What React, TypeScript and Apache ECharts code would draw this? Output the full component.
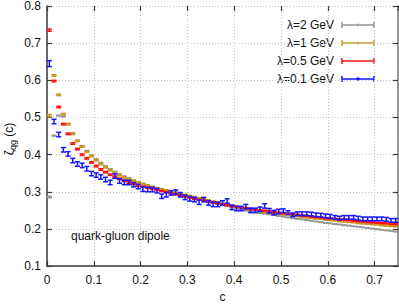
import React, { useEffect, useRef } from 'react';
import * as echarts from 'echarts';

const cValues = [
  0.005, 0.015, 0.025, 0.035, 0.045, 0.055, 0.065, 0.075, 0.085, 0.095,
  0.105, 0.115, 0.125, 0.135, 0.145, 0.155, 0.165, 0.175, 0.185, 0.195,
  0.205, 0.215, 0.225, 0.235, 0.245, 0.255, 0.265, 0.275, 0.285, 0.295,
  0.305, 0.315, 0.325, 0.335, 0.345, 0.355, 0.365, 0.375, 0.385, 0.395,
  0.405, 0.415, 0.425, 0.435, 0.445, 0.455, 0.465, 0.475, 0.485, 0.495,
  0.505, 0.515, 0.525, 0.535, 0.545, 0.555, 0.565, 0.575, 0.585, 0.595,
  0.605, 0.615, 0.625, 0.635, 0.645, 0.655, 0.665, 0.675, 0.685, 0.695,
  0.705, 0.715, 0.725, 0.735, 0.745,
];

const seriesNames = ['λ=2 GeV', 'λ=1 GeV', 'λ=0.5 GeV', 'λ=0.1 GeV'];

const zeta2GeV = [
  0.286, 0.451, 0.505, 0.503, 0.482, 0.455, 0.437, 0.423, 0.410, 0.398,
  0.388, 0.378, 0.369, 0.361, 0.354, 0.347, 0.341, 0.336, 0.331, 0.326,
  0.322, 0.318, 0.314, 0.310, 0.306, 0.302, 0.298, 0.295, 0.292, 0.289,
  0.286, 0.283, 0.279, 0.276, 0.273, 0.270, 0.267, 0.264, 0.261, 0.258,
  0.255, 0.252, 0.249, 0.247, 0.245, 0.243, 0.241, 0.239, 0.237, 0.235,
  0.233, 0.231, 0.229, 0.227, 0.226, 0.224, 0.222, 0.220, 0.218, 0.216,
  0.215, 0.213, 0.212, 0.210, 0.209, 0.207, 0.206, 0.204, 0.203, 0.201,
  0.199, 0.198, 0.196, 0.195, 0.193,
];
const err2GeV = [
  0.002, 0.001, 0.001, 0.001, 0.001, 0.001, 0.001, 0.001, 0.001, 0.001,
  0.001, 0.001, 0.001, 0.001, 0.001, 0.001, 0.001, 0.001, 0.001, 0.001,
  0.0005, 0.0005, 0.0005, 0.0005, 0.0005, 0.0005, 0.0005, 0.0005, 0.0005, 0.0005,
  0.0005, 0.0005, 0.0005, 0.0005, 0.0005, 0.0005, 0.0005, 0.0005, 0.0005, 0.0005,
  0.0005, 0.0005, 0.0005, 0.0005, 0.0005, 0.0005, 0.0005, 0.0005, 0.0005, 0.0005,
  0.0005, 0.0005, 0.0005, 0.0005, 0.0005, 0.0005, 0.0005, 0.0005, 0.0005, 0.0005,
  0.0005, 0.0005, 0.0005, 0.0005, 0.0005, 0.0005, 0.0005, 0.0005, 0.0005, 0.0005,
  0.0005, 0.0005, 0.0005, 0.0005, 0.0005,
];

const zeta1GeV = [
  0.505, 0.613, 0.561, 0.509, 0.482, 0.457, 0.437, 0.422, 0.408, 0.396,
  0.385, 0.375, 0.366, 0.358, 0.351, 0.345, 0.339, 0.334, 0.329, 0.325,
  0.321, 0.317, 0.313, 0.310, 0.307, 0.304, 0.301, 0.298, 0.295, 0.292,
  0.289, 0.286, 0.283, 0.280, 0.277, 0.274, 0.271, 0.268, 0.265, 0.262,
  0.260, 0.257, 0.255, 0.252, 0.250, 0.248, 0.246, 0.244, 0.243, 0.241,
  0.239, 0.238, 0.236, 0.234, 0.233, 0.231, 0.230, 0.228, 0.227, 0.225,
  0.224, 0.223, 0.221, 0.220, 0.219, 0.218, 0.216, 0.215, 0.214, 0.213,
  0.212, 0.210, 0.209, 0.208, 0.207,
];
const err1GeV = [
  0.003, 0.002, 0.002, 0.002, 0.002, 0.002, 0.002, 0.002, 0.002, 0.002,
  0.002, 0.002, 0.002, 0.002, 0.002, 0.002, 0.002, 0.002, 0.002, 0.002,
  0.0015, 0.0015, 0.0015, 0.0015, 0.0015, 0.0015, 0.0015, 0.0015, 0.0015, 0.0015,
  0.0015, 0.0015, 0.0015, 0.0015, 0.0015, 0.0015, 0.0015, 0.0015, 0.0015, 0.0015,
  0.0015, 0.0015, 0.0015, 0.0015, 0.0015, 0.0015, 0.0015, 0.0015, 0.0015, 0.0015,
  0.0015, 0.0015, 0.0015, 0.0015, 0.0015, 0.0015, 0.0015, 0.0015, 0.0015, 0.0015,
  0.0015, 0.0015, 0.0015, 0.0015, 0.0015, 0.0015, 0.0015, 0.0015, 0.0015, 0.0015,
  0.0015, 0.0015, 0.0015, 0.0015, 0.0015,
];

const zeta05GeV = [
  0.735, 0.598, 0.528, 0.482, 0.456, 0.430, 0.415, 0.400, 0.390, 0.379,
  0.369, 0.360, 0.353, 0.346, 0.340, 0.335, 0.330, 0.325, 0.321, 0.317,
  0.314, 0.311, 0.308, 0.305, 0.302, 0.299, 0.296, 0.293, 0.290, 0.287,
  0.284, 0.281, 0.279, 0.276, 0.274, 0.271, 0.269, 0.266, 0.264, 0.262,
  0.260, 0.258, 0.256, 0.254, 0.252, 0.250, 0.249, 0.247, 0.245, 0.244,
  0.242, 0.241, 0.239, 0.238, 0.236, 0.235, 0.233, 0.232, 0.231, 0.229,
  0.228, 0.227, 0.226, 0.225, 0.224, 0.222, 0.221, 0.220, 0.219, 0.218,
  0.217, 0.216, 0.215, 0.214, 0.213,
];
const err05GeV = [
  0.003, 0.002, 0.002, 0.002, 0.002, 0.002, 0.002, 0.002, 0.002, 0.002,
  0.002, 0.002, 0.002, 0.002, 0.002, 0.002, 0.002, 0.002, 0.002, 0.002,
  0.0015, 0.0015, 0.0015, 0.0015, 0.0015, 0.0015, 0.0015, 0.0015, 0.0015, 0.0015,
  0.0015, 0.0015, 0.0015, 0.0015, 0.0015, 0.0015, 0.0015, 0.0015, 0.0015, 0.0015,
  0.0015, 0.0015, 0.0015, 0.0015, 0.0015, 0.0015, 0.0015, 0.0015, 0.0015, 0.0015,
  0.0015, 0.0015, 0.0015, 0.0015, 0.0015, 0.0015, 0.0015, 0.0015, 0.0015, 0.0015,
  0.0015, 0.0015, 0.0015, 0.0015, 0.0015, 0.0015, 0.0015, 0.0015, 0.0015, 0.0015,
  0.0015, 0.0015, 0.0015, 0.0015, 0.0015,
];

const zeta01GeV = [
  0.645, 0.489, 0.454, 0.413, 0.402, 0.384, 0.375, 0.371, 0.362, 0.349,
  0.345, 0.340, 0.333, 0.325, 0.342, 0.329, 0.325, 0.325, 0.319, 0.314,
  0.307, 0.306, 0.306, 0.303, 0.288, 0.292, 0.297, 0.299, 0.292, 0.285,
  0.281, 0.279, 0.272, 0.279, 0.270, 0.266, 0.266, 0.270, 0.275, 0.258,
  0.255, 0.255, 0.260, 0.250, 0.250, 0.253, 0.262, 0.249, 0.244, 0.247,
  0.249, 0.244, 0.238, 0.241, 0.241, 0.241, 0.240, 0.238, 0.237, 0.235,
  0.234, 0.231, 0.229, 0.231, 0.231, 0.231, 0.229, 0.227, 0.227, 0.227,
  0.227, 0.227, 0.226, 0.223, 0.223,
];
const err01GeV = [
  0.008, 0.006, 0.006, 0.006, 0.006, 0.006, 0.006, 0.006, 0.006, 0.006,
  0.006, 0.006, 0.006, 0.006, 0.006, 0.006, 0.006, 0.006, 0.006, 0.006,
  0.006, 0.006, 0.006, 0.006, 0.006, 0.006, 0.006, 0.006, 0.006, 0.006,
  0.006, 0.006, 0.006, 0.006, 0.006, 0.006, 0.006, 0.006, 0.006, 0.006,
  0.006, 0.006, 0.006, 0.006, 0.006, 0.006, 0.006, 0.006, 0.006, 0.006,
  0.005, 0.005, 0.005, 0.005, 0.005, 0.005, 0.005, 0.005, 0.005, 0.005,
  0.005, 0.005, 0.005, 0.005, 0.005, 0.005, 0.005, 0.005, 0.005, 0.005,
  0.005, 0.005, 0.005, 0.005, 0.005,
];

const xTickMin = 0;
const xTickMax = 0.75;
const yTickMin = 0.1;
const yTickMax = 0.8;
const tickStep = 0.1;

const annotation = 'quark-gluon dipole';

export default function App() {
  const ref = useRef<HTMLDivElement>(null);

  useEffect(() => {
    if (!ref.current) return;
    const chart = echarts.init(ref.current, null, { renderer: 'svg' });
    const font = "'Liberation Sans', Arial, Helvetica, sans-serif";
    const colors = ['#959595', '#c9981f', '#ff1010', '#1414ff'];
    const values = [zeta2GeV, zeta1GeV, zeta05GeV, zeta01GeV];
    const errors = [err2GeV, err1GeV, err05GeV, err01GeV];

    const makeSeries = (idx: number) => {
      const color = colors[idx];
      return {
        type: 'custom',
        name: seriesNames[idx],
        xAxisIndex: 0,
        yAxisIndex: 0,
        silent: true,
        z: 2 + idx,
        data: cValues.map((c, i) => [c, values[idx][i], errors[idx][i]]),
        renderItem: (params: any, api: any) => {
          const x = api.value(0);
          const y = api.value(1);
          const e = api.value(2);
          const p1 = api.coord([x, y + e]);
          const p2 = api.coord([x, y - e]);
          const hw = 2.5;
          const st = { stroke: color, lineWidth: 1.5, fill: null };
          return {
            type: 'group',
            children: [
              { type: 'line', shape: { x1: p1[0], y1: p1[1], x2: p2[0], y2: p2[1] }, style: st },
              { type: 'line', shape: { x1: p1[0] - hw, y1: p1[1], x2: p1[0] + hw, y2: p1[1] }, style: st },
              { type: 'line', shape: { x1: p2[0] - hw, y1: p2[1], x2: p2[0] + hw, y2: p2[1] }, style: st },
            ],
          };
        },
      };
    };

    const axisColor = '#3a3a3a';
    const axisLine = { show: true, onZero: false, lineStyle: { color: axisColor, width: 1.5 } };
    const axisTick = { show: true, inside: true, length: 5, lineStyle: { color: axisColor, width: 1.2 } };
    const splitLine = { show: true, lineStyle: { color: '#c4c4c4', type: [1, 2], width: 1 } };
    const labelStyle = { color: '#111', fontSize: 12, fontFamily: font };

    const legendChildren: any[] = [];
    const legendY = [25, 43, 61, 79];
    seriesNames.forEach((n, i) => {
      const y = legendY[i];
      const col = colors[i];
      legendChildren.push({
        type: 'text', x: 334, y,
        style: { text: n, fill: '#111', fontSize: 12, fontFamily: font, align: 'right', verticalAlign: 'middle' },
      });
      legendChildren.push({ type: 'line', shape: { x1: 342, y1: y, x2: 374, y2: y }, style: { stroke: col, lineWidth: 1.5 } });
      legendChildren.push({ type: 'line', shape: { x1: 342, y1: y - 3, x2: 342, y2: y + 3 }, style: { stroke: col, lineWidth: 1.5 } });
      legendChildren.push({ type: 'line', shape: { x1: 374, y1: y - 3, x2: 374, y2: y + 3 }, style: { stroke: col, lineWidth: 1.5 } });
      if (i === 3) {
        legendChildren.push({ type: 'rect', shape: { x: 356.5, y: y - 1.5, width: 3, height: 3 }, style: { fill: col } });
      } else if (i !== 2) {
        legendChildren.push({ type: 'line', shape: { x1: 358, y1: y - 1.5, x2: 358, y2: y + 1.5 }, style: { stroke: col, lineWidth: 1 } });
      }
    });

    chart.setOption({
      animation: false,
      grid: { left: 47, right: 1, top: 5, bottom: 36, containLabel: false },
      xAxis: [
        {
          type: 'value', min: xTickMin, max: xTickMax, interval: tickStep, position: 'bottom',
          axisLine, axisTick,
          axisLabel: { ...labelStyle, margin: 8, showMaxLabel: false },
          splitLine,
          name: 'c', nameLocation: 'middle', nameGap: 23,
          nameTextStyle: { color: '#111', fontSize: 12, fontFamily: font },
        },
        {
          type: 'value', min: xTickMin, max: xTickMax, interval: tickStep, position: 'top',
          axisLine: { show: false }, axisTick, axisLabel: { show: false }, splitLine: { show: false },
        },
      ],
      yAxis: [
        {
          type: 'value', min: yTickMin, max: yTickMax, interval: tickStep, position: 'left',
          axisLine, axisTick,
          axisLabel: { ...labelStyle, margin: 6 },
          splitLine,
        },
        {
          type: 'value', min: yTickMin, max: yTickMax, interval: tickStep, position: 'right',
          axisLine: { show: true, onZero: false, lineStyle: { color: '#777', width: 1.5 } },
          axisTick, axisLabel: { show: false }, splitLine: { show: false },
        },
      ],
      graphic: [
        {
          type: 'text', x: 9, y: 139, rotation: Math.PI / 2,
          style: {
            text: '{z|ζ}{s|qg}{z| (c)}',
            align: 'center', verticalAlign: 'middle',
            rich: {
              z: { fontSize: 12, fontFamily: font, fill: '#111' },
              s: { fontSize: 9, fontFamily: font, fill: '#111', padding: [8, 0, 0, 0] },
            },
          },
        },
        {
          type: 'text', x: 71, y: 236,
          style: { text: annotation, fill: '#111', fontSize: 12, fontFamily: font, align: 'left', verticalAlign: 'middle' },
        },
        { type: 'group', children: legendChildren },
      ],
      series: [0, 1, 2, 3].map(makeSeries),
    } as any);

    return () => chart.dispose();
  }, []);

  return (
    <div
      ref={ref}
      style={{ position: 'absolute', left: 0, top: 0, width: 399, height: 308, background: '#fff' }}
    />
  );
}
